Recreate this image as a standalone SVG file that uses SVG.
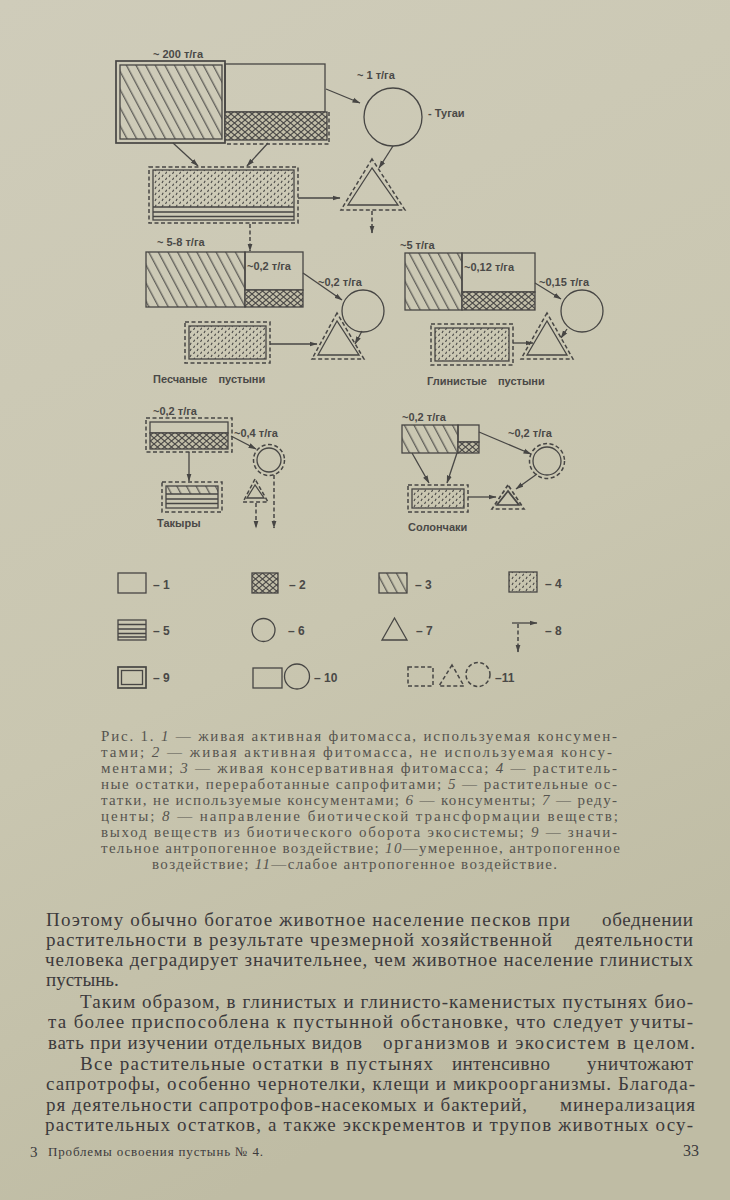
<svg xmlns="http://www.w3.org/2000/svg" width="730" height="1200" viewBox="0 0 730 1200">
<defs>
<linearGradient id="paper" x1="0" y1="0" x2="0.3" y2="1">
<stop offset="0" stop-color="#cfccba"/>
<stop offset="0.6" stop-color="#c9c6b0"/>
<stop offset="1" stop-color="#bfbca4"/>
</linearGradient>
<pattern id="hatch" patternUnits="userSpaceOnUse" width="9" height="8.5" patternTransform="rotate(62)">
<line x1="0" y1="4" x2="9" y2="4" stroke="#4a4947" stroke-width="1.1"/>
</pattern>
<pattern id="cross" patternUnits="userSpaceOnUse" width="7" height="6">
<rect width="7" height="6" fill="#c2bea8"/>
<path d="M0,0 L7,6 M7,0 L0,6" stroke="#4a4947" stroke-width="1.1"/>
</pattern>
<pattern id="dots" patternUnits="userSpaceOnUse" width="7" height="6">
<path d="M1,3 l1.2,-2.2 M4.5,6 l1.2,-2.2" stroke="#4a4947" stroke-width="1.1"/>
</pattern>
<marker id="ah" markerWidth="8" markerHeight="6" refX="7.5" refY="3" orient="auto" markerUnits="userSpaceOnUse">
<path d="M0,0.5 L8,3 L0,5.5z" fill="#474644"/>
</marker>
<style>
.ink{stroke:#474644;fill:none;stroke-width:1.3}
.dash{stroke-dasharray:4 2.5;stroke-width:1.5}
.thick{stroke-width:1.7}
.fh{fill:url(#hatch)}
.fc{fill:url(#cross)}
.fd{fill:url(#dots)}
.lbl{font-family:"Liberation Sans",Arial,sans-serif;font-size:11px;font-weight:bold;fill:#4a4947}
.leg{font-family:"Liberation Sans",Arial,sans-serif;font-size:12px;font-weight:bold;fill:#4a4947}
.cap{font-family:"Liberation Serif","Times New Roman",serif;font-size:15px;fill:#56544f}
.body{font-family:"Liberation Serif","Times New Roman",serif;font-size:19px;fill:#3c3a3c}
.it{font-style:italic}
</style>
</defs>
<rect width="730" height="1200" fill="url(#paper)"/>

<!-- Top diagram: Тугаи -->
<g id="top-phytomass">
<rect x="120" y="65" width="102" height="74" class="ink fh"/>
<rect x="116" y="61" width="109" height="82" class="ink thick"/>
<rect x="225" y="64" width="100" height="48" class="ink"/>
<rect x="225" y="112" width="102" height="28" class="ink fc"/>
<path d="M329,112 V144 H225" class="ink dash"/>
<text class="lbl" x="153" y="58">~ 200 т/га</text>
</g>
<g id="top-consumers">
<circle cx="393" cy="117" r="29" class="ink"/>
<text class="lbl" x="357" y="79">~ 1 т/га</text>
<text class="lbl" x="428" y="117">- Тугаи</text>
</g>
<g id="top-litter">
<rect x="149" y="167" width="149" height="56" class="ink dash"/>
<rect x="153" y="170" width="141" height="37" class="fd"/>
<rect x="153" y="170" width="141" height="50" class="ink"/>
<path d="M153,207 H294 M153,212 H294 M153,216.5 H294" class="ink"/>
</g>
<g id="top-reducers">
<polygon points="372,168 348,205 398,205" class="ink"/>
<polygon points="372,159 341,210 405,210" class="ink dash"/>
</g>

<!-- Middle left: Песчаные пустыни -->
<g id="sand-phytomass">
<rect x="146" y="252" width="99" height="55" class="ink fh"/>
<rect x="245" y="252" width="58" height="38" class="ink"/>
<rect x="245" y="290" width="58" height="17" class="ink fc"/>
<text class="lbl" x="157" y="246">~ 5-8 т/га</text>
<text class="lbl" x="247" y="270">~0,2 т/га</text>
</g>
<g id="sand-consumers">
<circle cx="363" cy="311" r="21" class="ink"/>
<text class="lbl" x="318" y="286">~0,2 т/га</text>
</g>
<g id="sand-litter">
<rect x="185" y="322" width="85" height="41" class="ink dash"/>
<rect x="189" y="326" width="77" height="33" class="ink fd"/>
</g>
<g id="sand-reducers">
<polygon points="337,321 318,355 359,355" class="ink"/>
<polygon points="337,313 312,359 364,359" class="ink dash"/>
</g>
<text class="lbl" x="153" y="383" word-spacing="8">Песчаные пустыни</text>

<!-- Middle right: Глинистые пустыни -->
<g id="clay-phytomass">
<rect x="405" y="253" width="57" height="57" class="ink fh"/>
<rect x="462" y="253" width="73" height="39" class="ink"/>
<rect x="462" y="292" width="73" height="18" class="ink fc"/>
<text class="lbl" x="400" y="249">~5 т/га</text>
<text class="lbl" x="464" y="271">~0,12 т/га</text>
</g>
<g id="clay-consumers">
<circle cx="582" cy="311" r="21" class="ink"/>
<text class="lbl" x="539" y="286">~0,15 т/га</text>
</g>
<g id="clay-litter">
<rect x="431" y="324" width="82" height="41" class="ink dash"/>
<rect x="435" y="328" width="74" height="33" class="ink fd"/>
</g>
<g id="clay-reducers">
<polygon points="547,321 527,355 567,355" class="ink"/>
<polygon points="547,313 521,359 573,359" class="ink dash"/>
</g>
<text class="lbl" x="427" y="385" word-spacing="8">Глинистые пустыни</text>

<!-- Bottom left: Такыры -->
<g id="takyr-phytomass">
<rect x="146" y="418" width="86" height="34" class="ink dash"/>
<rect x="150" y="422" width="78" height="11" class="ink"/>
<rect x="150" y="433" width="78" height="16" class="ink fc"/>
<text class="lbl" x="153" y="415">~0,2 т/га</text>
</g>
<g id="takyr-consumers">
<circle cx="269" cy="460" r="12" class="ink"/>
<circle cx="269" cy="460" r="15.5" class="ink dash"/>
<text class="lbl" x="234" y="437">~0,4 т/га</text>
</g>
<g id="takyr-litter">
<rect x="162" y="482" width="60" height="30" class="ink dash"/>
<rect x="166" y="486" width="52" height="8" class="fh"/>
<rect x="166" y="486" width="52" height="22" class="ink"/>
<path d="M166,494 H218 M166,499 H218 M166,503.5 H218" class="ink"/>
<text class="lbl" x="157" y="527">Такыры</text>
</g>
<g id="takyr-reducers">
<polygon points="255,485 247,498 264,498" class="ink"/>
<polygon points="255,479 243,502 268,502" class="ink dash"/>
</g>

<!-- Bottom right: Солончаки -->
<g id="salt-phytomass">
<rect x="402" y="425" width="56" height="28" class="ink fh"/>
<rect x="458" y="425" width="21" height="17" class="ink"/>
<rect x="458" y="442" width="21" height="11" class="ink fc"/>
<text class="lbl" x="402" y="421">~0,2 т/га</text>
</g>
<g id="salt-consumers">
<circle cx="547" cy="461" r="14" class="ink"/>
<circle cx="547" cy="461" r="17.5" class="ink dash"/>
<text class="lbl" x="508" y="437">~0,2 т/га</text>
</g>
<g id="salt-litter">
<rect x="408" y="485" width="60" height="27" class="ink dash"/>
<rect x="412" y="489" width="52" height="19" class="ink fd"/>
<text class="lbl" x="408" y="531">Солончаки</text>
</g>
<g id="salt-reducers">
<polygon points="508,491 497,505 519,505" class="ink thick"/>
<polygon points="508,485 492,509 524,509" class="ink dash thick"/>
</g>

<!-- Connectors -->
<g id="connectors" class="ink" marker-end="url(#ah)">
<line x1="326" y1="89" x2="360" y2="103"/>
<line x1="173" y1="143" x2="198" y2="166"/>
<line x1="268" y1="143" x2="247" y2="166"/>
<line x1="298" y1="198" x2="340" y2="198"/>
<line x1="393" y1="146" x2="379" y2="168"/>
<line x1="372" y1="211" x2="372" y2="233" class="dash"/>
<line x1="250" y1="224" x2="250" y2="251" class="dash"/>
<line x1="303" y1="273" x2="342" y2="300"/>
<line x1="270" y1="344" x2="317" y2="344"/>
<line x1="362" y1="331" x2="355" y2="344"/>
<line x1="535" y1="283" x2="561" y2="299"/>
<line x1="513" y1="343" x2="533" y2="343"/>
<line x1="567" y1="329" x2="561" y2="338"/>
<line x1="231" y1="436" x2="256" y2="449"/>
<line x1="189" y1="452" x2="189" y2="481"/>
<line x1="256" y1="503" x2="256" y2="528" class="dash"/>
<line x1="274" y1="475" x2="274" y2="528" class="dash"/>
<line x1="479" y1="432" x2="531" y2="454"/>
<line x1="412" y1="453" x2="429" y2="483"/>
<line x1="457" y1="453" x2="447" y2="483"/>
<line x1="468" y1="497" x2="496" y2="497"/>
<line x1="537" y1="474" x2="516" y2="489"/>
</g>

<!-- Legend -->
<g id="legend">
<rect x="118" y="573" width="28" height="20" class="ink"/>
<text class="leg" x="153" y="589">–  1</text>
<rect x="252" y="573" width="26" height="20" class="ink fc"/>
<text class="leg" x="289" y="589">–  2</text>
<rect x="379" y="573" width="28" height="20" class="ink fh"/>
<text class="leg" x="415" y="589">–  3</text>
<rect x="509" y="572" width="28" height="20" class="ink fd"/>
<text class="leg" x="545" y="588">–  4</text>
<rect x="118" y="620" width="28" height="20" class="ink"/>
<path d="M118,624.5 H146 M118,629 H146 M118,633.5 H146 M118,637 H146" class="ink"/>
<text class="leg" x="153" y="635">–  5</text>
<circle cx="263.5" cy="630" r="11.5" class="ink"/>
<text class="leg" x="288" y="635">–  6</text>
<polygon points="394.5,618 382,640 407,640" class="ink"/>
<text class="leg" x="416" y="635">–  7</text>
<line x1="512" y1="623" x2="537" y2="623" class="ink" marker-end="url(#ah)"/>
<line x1="518" y1="624" x2="518" y2="652" class="ink dash" marker-end="url(#ah)"/>
<text class="leg" x="545" y="635">–  8</text>
<rect x="118" y="667" width="28" height="21" class="ink thick"/>
<rect x="121.5" y="670.5" width="21" height="14" class="ink"/>
<text class="leg" x="153" y="682">–  9</text>
<rect x="253" y="668" width="29" height="20" class="ink"/>
<circle cx="297" cy="676.5" r="12.5" class="ink"/>
<text class="leg" x="314" y="682">– 10</text>
<rect x="408" y="667" width="25" height="19" class="ink dash"/>
<polygon points="452,665 439,686 464,686" class="ink dash"/>
<circle cx="478" cy="674.5" r="12" class="ink dash"/>
<text class="leg" x="495" y="682">–11</text>
</g>

<!-- Caption -->
<g id="caption" class="cap">
<text x="101" y="741" textLength="516" lengthAdjust="spacing">Рис. 1. <tspan class="it">1</tspan> — живая активная фитомасса, используемая консумен-</text>
<text x="101" y="757" textLength="511" lengthAdjust="spacing">тами; <tspan class="it">2</tspan> — живая активная фитомасса, не используемая консу-</text>
<text x="101" y="773" textLength="516" lengthAdjust="spacing">ментами; <tspan class="it">3</tspan> — живая консервативная фитомасса; <tspan class="it">4</tspan> — раститель-</text>
<text x="101" y="789" textLength="516" lengthAdjust="spacing">ные остатки, переработанные сапрофитами; <tspan class="it">5</tspan> — растительные ос-</text>
<text x="101" y="805" textLength="516" lengthAdjust="spacing">татки, не используемые консументами; <tspan class="it">6</tspan> — консументы; <tspan class="it">7</tspan> — реду-</text>
<text x="101" y="821" textLength="517" lengthAdjust="spacing">центы; <tspan class="it">8</tspan> — направление биотической трансформации веществ;</text>
<text x="101" y="837" textLength="516" lengthAdjust="spacing">выход веществ из биотического оборота экосистемы; <tspan class="it">9</tspan> — значи-</text>
<text x="101" y="853" textLength="519" lengthAdjust="spacing">тельное антропогенное воздействие; <tspan class="it">10</tspan>—умеренное, антропогенное</text>
<text x="152" y="869" textLength="405" lengthAdjust="spacing">воздействие; <tspan class="it">11</tspan>—слабое антропогенное воздействие.</text>
</g>

<!-- Body text -->
<g id="body-text" class="body">
<text x="46" y="926" textLength="524" lengthAdjust="spacing">Поэтому обычно богатое животное население песков при</text>
<text x="602" y="926" textLength="91" lengthAdjust="spacing">обеднении</text>
<text x="46" y="946" textLength="506" lengthAdjust="spacing">растительности в результате чрезмерной хозяйственной</text>
<text x="575" y="946" textLength="118" lengthAdjust="spacing">деятельности</text>
<text x="45" y="966" textLength="648" lengthAdjust="spacing">человека деградирует значительнее, чем животное население глинистых</text>
<text x="46" y="986">пустынь.</text>
<text x="80" y="1008" textLength="613" lengthAdjust="spacing">Таким образом, в глинистых и глинисто-каменистых пустынях био-</text>
<text x="48" y="1028" textLength="645" lengthAdjust="spacing">та более приспособлена к пустынной обстановке, что следует учиты-</text>
<text x="48" y="1049" textLength="314" lengthAdjust="spacing">вать при изучении отдельных видов</text>
<text x="383" y="1049" textLength="312" lengthAdjust="spacing">организмов и экосистем в целом.</text>
<text x="80" y="1070" textLength="353" lengthAdjust="spacing">Все растительные остатки в пустынях</text>
<text x="452" y="1070" textLength="98" lengthAdjust="spacing">интенсивно</text>
<text x="587" y="1070" textLength="106" lengthAdjust="spacing">уничтожают</text>
<text x="46" y="1090" textLength="649" lengthAdjust="spacing">сапротрофы, особенно чернотелки, клещи и микроорганизмы. Благода-</text>
<text x="46" y="1111" textLength="481" lengthAdjust="spacing">ря деятельности сапротрофов-насекомых и бактерий,</text>
<text x="560" y="1111" textLength="135" lengthAdjust="spacing">минерализация</text>
<text x="45" y="1131" textLength="648" lengthAdjust="spacing">растительных остатков, а также экскрементов и трупов животных осу-</text>
</g>

<!-- Footer -->
<g id="footer">
<text x="30" y="1157" style="font-family:'Liberation Serif',serif;font-size:15px;fill:#3c3a3c">3</text>
<text x="48" y="1156" textLength="215" lengthAdjust="spacing" style="font-family:'Liberation Serif',serif;font-size:13px;fill:#3c3a3c">Проблемы освоения пустынь № 4.</text>
<text x="683" y="1156" style="font-family:'Liberation Serif',serif;font-size:16px;fill:#3c3a3c">33</text>
</g>
</svg>
